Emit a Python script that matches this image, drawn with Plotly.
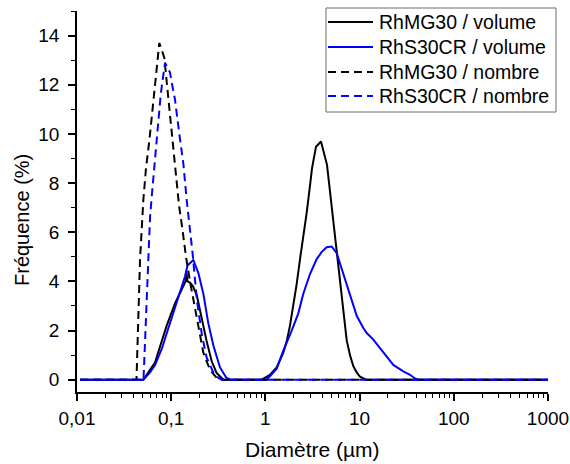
import plotly.graph_objects as go

# RhMG30 / volume
d_mg_vol = [0.0108, 0.0506, 0.0596, 0.0673, 0.0761, 0.0896, 0.1097, 0.1345, 0.1418, 0.1447, 0.1489,
            0.1583, 0.1703, 0.1865, 0.2107, 0.2382, 0.2691, 0.3041, 0.3574,
            0.9135, 1.119, 1.318, 1.549, 1.683, 1.824, 1.978, 2.149, 2.330, 2.525, 2.744, 2.975,
            3.124, 3.445, 3.892, 4.508, 5.055, 5.799, 6.457, 6.714, 7.298, 7.909, 8.574, 9.315,
            10.10, 11.69, 1000]
f_mg_vol = [0, 0, 0.4, 0.7, 1.35, 2.2, 3.1, 3.8, 4.0, 4.4, 4.0,
            3.95, 3.8, 3.45, 2.5, 1.55, 0.75, 0.27, 0,
            0, 0.2, 0.5, 1.1, 1.56, 2.2, 3.0, 3.9, 4.9, 5.8, 6.8, 7.9,
            8.6, 9.48, 9.69, 8.74, 7.0, 5.1, 3.3, 2.7, 1.6, 1.0, 0.55, 0.3,
            0.12, 0, 0]

# RhS30CR / volume
d_s_vol = [0.0108, 0.0506, 0.0596, 0.0673, 0.0793, 0.0971, 0.1189, 0.1401, 0.1489, 0.1716, 0.1940,
           0.2193, 0.2476, 0.2799, 0.3296, 0.3817, 0.4209,
           1.032, 1.318, 1.549, 1.902, 2.235, 2.525, 2.975, 3.471, 3.960, 4.474, 5.055, 5.714,
           6.714, 7.909, 9.315, 10.95, 11.90, 13.98, 17.85, 22.79, 29.10, 34.28, 38.73, 42.0, 1000]
f_s_vol = [0, 0, 0.3, 0.6, 1.25, 2.3, 3.4, 4.2, 4.65, 4.87, 4.35,
           3.5, 2.3, 1.4, 0.5, 0.1, 0,
           0, 0.45, 1.18, 2.0, 2.7, 3.5, 4.3, 4.88, 5.2, 5.39, 5.42, 5.15,
           4.3, 3.39, 2.6, 2.1, 1.9, 1.63, 1.1, 0.6, 0.34, 0.2, 0.05, 0, 0]

# RhMG30 / nombre
d_mg_nb = [0.0108, 0.0428, 0.0450, 0.0467, 0.0506, 0.0540, 0.0585, 0.0630, 0.0662, 0.0702, 0.0748,
           0.0845, 0.0909, 0.0995, 0.1037, 0.1125, 0.1210, 0.1318, 0.1436, 0.1583, 0.1716,
           0.1940, 0.2193, 0.2582, 0.3041, 0.3462, 1000]
f_mg_nb = [0, 0, 2.8, 4.9, 7.3, 8.6, 9.7, 11.0, 11.8, 12.7, 13.7,
           13.1, 11.9, 10.3, 9.6, 8.4, 7.1, 6.1, 5.0, 4.0, 3.3,
           2.1, 1.1, 0.4, 0.07, 0, 0]

# RhS30CR / nombre
d_s_nb = [0.0108, 0.0508, 0.0527, 0.0549, 0.0571, 0.0596, 0.0626, 0.0673, 0.0719, 0.0774, 0.0825,
          0.0860, 0.0902, 0.0971, 0.1012, 0.1097, 0.1219, 0.1345, 0.1461, 0.1583, 0.1691,
          0.1865, 0.2123, 0.2382, 0.2799, 0.3162, 0.3462, 1000]
f_s_nb = [0, 0, 1.5, 3.2, 4.8, 6.6, 7.6, 9.0, 10.5, 11.6, 12.4,
          12.9, 12.75, 12.5, 12.1, 11.4, 10.0, 8.8, 7.3, 6.1, 5.1,
          3.3, 1.8, 0.9, 0.3, 0.07, 0, 0]

series_names = ["RhMG30 / volume", "RhS30CR / volume", "RhMG30 / nombre", "RhS30CR / nombre"]

x_tick_vals = [0.01, 0.1, 1, 10, 100, 1000]
x_tick_text = ["0,01", "0,1", "1", "10", "100", "1000"]
x_minor_vals = [m * 10 ** e for e in range(-2, 3) for m in range(2, 10)]
y_tick_vals = [0, 2, 4, 6, 8, 10, 12, 14]
y_minor_vals = [1, 3, 5, 7, 9, 11, 13, 15]

FONT = "Liberation Sans, Arial, sans-serif"
DASH = "8px,5px"
styles = [dict(color="#000000", width=2),
          dict(color="#0000FF", width=2),
          dict(color="#000000", width=2, dash=DASH),
          dict(color="#0000FF", width=2, dash=DASH)]
data = [(d_mg_vol, f_mg_vol), (d_s_vol, f_s_vol), (d_mg_nb, f_mg_nb), (d_s_nb, f_s_nb)]

fig = go.Figure()
for (xs, ys), name, st in zip(data, series_names, styles):
    fig.add_trace(go.Scatter(x=xs, y=ys, mode="lines", name=name, line=st, showlegend=False))

# plot-area geometry (pixels) used to place the hand-made legend
L, R, T, B = 77, 548, 11, 392
def px(x):
    return (x - L) / (R - L)
def py(y):
    return (B - y) / (B - T)

shapes = [dict(type="rect", xref="paper", yref="paper",
               x0=px(326), x1=px(556), y0=py(112), y1=py(8),
               line=dict(color="#6e6e6e", width=1), fillcolor="white", layer="above")]
annotations = []
row_y = [22, 47, 72, 96]
for name, st, ry in zip(series_names, styles, row_y):
    shapes.append(dict(type="line", xref="paper", yref="paper",
                       x0=px(328), x1=px(373), y0=py(ry), y1=py(ry),
                       line=dict(color=st["color"], width=2, dash=st.get("dash", "solid")),
                       layer="above"))
    annotations.append(dict(text=name, xref="paper", yref="paper", x=px(377), y=py(ry),
                            xanchor="left", yanchor="middle", showarrow=False,
                            font=dict(size=19.5)))

annotations += [
    dict(text="Diamètre (µm)", xref="paper", yref="paper", x=0.5, y=py(449),
         xanchor="center", yanchor="middle", showarrow=False, font=dict(size=21)),
    dict(text="Fréquence (%)", xref="paper", yref="paper", x=px(22), y=py(220),
         xanchor="center", yanchor="middle", textangle=-90,
         showarrow=False, font=dict(size=20)),
]

fig.update_layout(
    width=570, height=464,
    margin=dict(l=L, r=570 - R, t=T, b=464 - B, autoexpand=False),
    paper_bgcolor="white", plot_bgcolor="white",
    font=dict(family=FONT, size=19, color="#000000"),
    showlegend=False,
    xaxis=dict(type="log", range=[-2, 3.0], showgrid=False, zeroline=False,
               showline=True, linecolor="#000000", linewidth=1.5, automargin=False,
               ticks="outside", ticklen=7, tickwidth=1.5, tickcolor="#000000",
               tickmode="array", tickvals=x_tick_vals, ticktext=x_tick_text,
               ticklabelstandoff=1,
               minor=dict(ticks="outside", ticklen=4, tickwidth=1.2, tickcolor="#000000",
                          tickmode="array", tickvals=x_minor_vals, showgrid=False)),
    yaxis=dict(range=[-0.5, 15], showgrid=False, zeroline=False,
               showline=True, linecolor="#000000", linewidth=1.5, automargin=False,
               ticks="outside", ticklen=7, tickwidth=1.5, tickcolor="#000000",
               tickmode="array", tickvals=y_tick_vals, ticklabelstandoff=5,
               minor=dict(ticks="outside", ticklen=4, tickwidth=1.2, tickcolor="#000000",
                          tickmode="array", tickvals=y_minor_vals, showgrid=False)),
    shapes=shapes,
    annotations=annotations,
)

fig.write_html("out.html", config={"displayModeBar": False},
               post_script="document.body.style.margin='0px'; document.body.style.overflow='hidden';")
